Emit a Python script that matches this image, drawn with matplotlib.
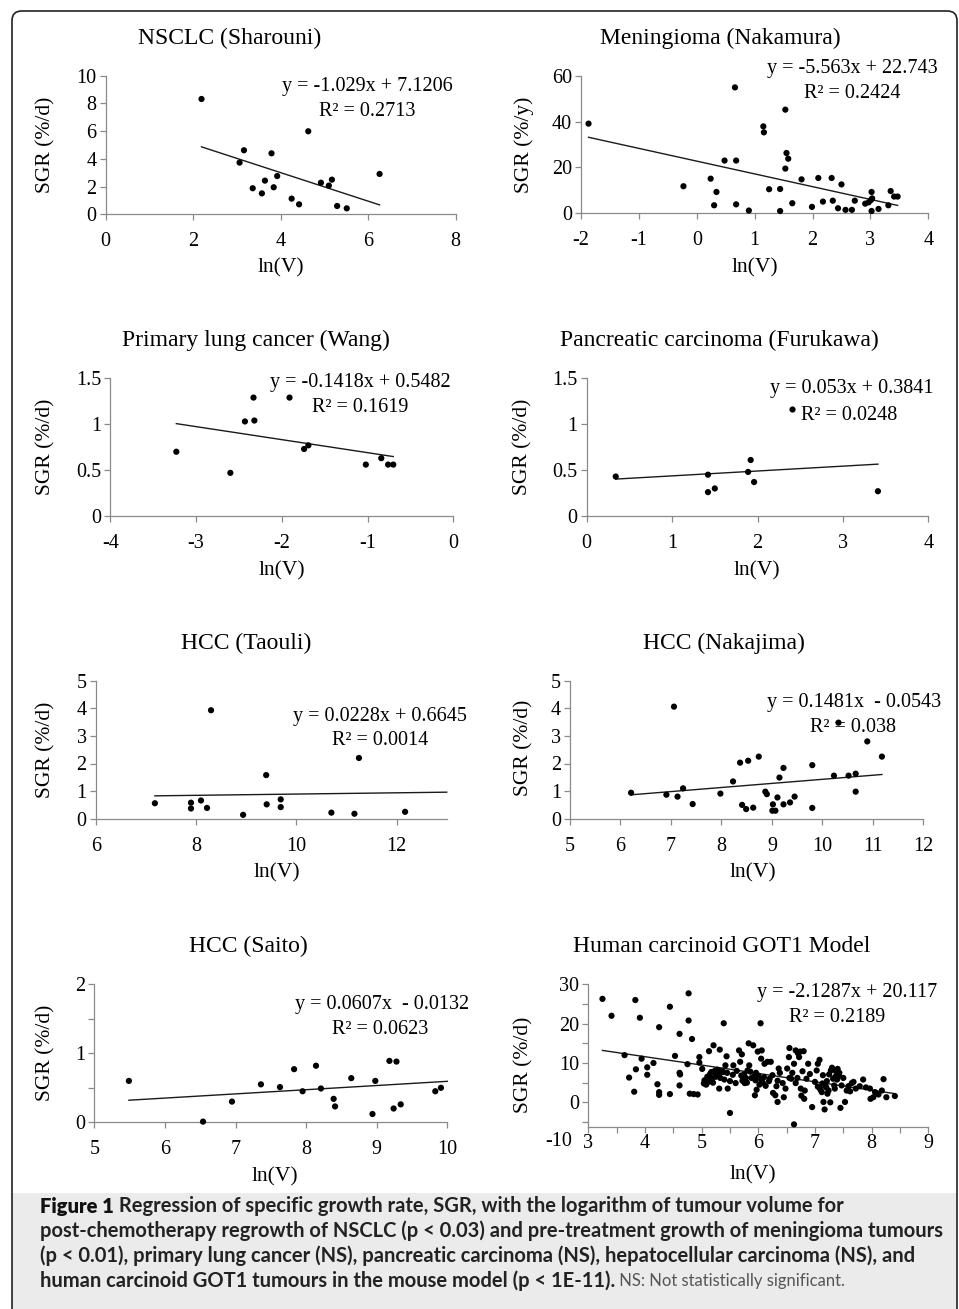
import matplotlib
matplotlib.use("Agg")
import matplotlib.pyplot as plt
from matplotlib.ticker import FixedLocator, FuncFormatter, MultipleLocator
from matplotlib.patches import FancyBboxPatch, Rectangle

# ---------------- data ----------------
nsclc_x = [2.19, 3.06, 3.16, 3.36, 3.57, 3.64, 3.79, 3.84, 3.92, 4.25, 4.42, 4.63, 4.92, 5.10, 5.17, 5.29, 5.51, 6.26]
nsclc_y = [8.32, 3.73, 4.62, 1.88, 1.51, 2.43, 4.40, 1.95, 2.76, 1.13, 0.72, 5.99, 2.28, 2.07, 2.50, 0.60, 0.43, 2.91]

men_x = [-1.87, -0.23, 0.24, 0.30, 0.34, 0.48, 0.66, 0.68, 0.68, 0.90, 1.15, 1.16, 1.25, 1.44, 1.44, 1.53, 1.53,
         1.55, 1.58, 1.65, 1.81, 1.99, 2.10, 2.18, 2.33, 2.35, 2.44, 2.50, 2.57, 2.68, 2.73, 2.91, 2.97, 3.02,
         3.01, 3.03, 3.02, 3.14, 3.31, 3.35, 3.41, 3.47]
men_y = [39.1, 11.8, 15.1, 3.5, 9.3, 23.0, 54.9, 23.0, 3.9, 1.2, 37.9, 35.3, 10.5, 10.6, 1.0, 45.2, 19.5,
         26.3, 23.8, 4.4, 14.8, 2.8, 15.4, 5.1, 15.4, 5.5, 2.2, 12.6, 1.5, 1.5, 5.5, 4.2, 4.8, 9.3,
         5.8, 6.5, 1.0, 1.9, 3.5, 9.7, 7.3, 7.3]

lung_x = [-3.23, -2.60, -2.43, -2.33, -2.32, -1.91, -1.74, -1.69, -1.02, -0.84, -0.76, -0.70]
lung_y = [0.70, 0.47, 1.03, 1.29, 1.04, 1.29, 0.73, 0.77, 0.56, 0.63, 0.56, 0.56]

panc_x = [0.34, 1.42, 1.42, 1.50, 1.89, 1.92, 1.96, 2.41, 3.41]
panc_y = [0.43, 0.45, 0.26, 0.30, 0.48, 0.61, 0.37, 1.16, 0.27]

taouli_x = [7.18, 7.90, 7.90, 8.10, 8.22, 8.30, 8.94, 9.40, 9.41, 9.69, 9.69, 10.70, 11.16, 11.25, 12.17]
taouli_y = [0.56, 0.58, 0.37, 0.66, 0.39, 3.93, 0.14, 1.58, 0.52, 0.70, 0.42, 0.22, 0.18, 2.20, 0.25]

naka_x = [6.21, 6.91, 7.06, 7.13, 7.24, 7.43, 7.98, 8.23, 8.37, 8.41, 8.49, 8.53, 8.63, 8.74, 8.87, 8.90, 9.01,
          9.02, 9.07, 9.11, 9.15, 9.23, 9.23, 9.36, 9.45, 9.80, 9.80, 10.23, 10.32, 10.52, 10.66, 10.66, 10.89, 11.18]
naka_y = [0.94, 0.87, 4.06, 0.80, 1.10, 0.53, 0.91, 1.35, 2.03, 0.50, 0.35, 2.10, 0.40, 2.25, 0.98, 0.89, 0.29,
          0.52, 0.29, 0.77, 1.49, 1.84, 0.52, 0.59, 0.80, 1.94, 0.39, 1.56, 3.48, 1.56, 1.63, 0.98, 2.80, 2.25]

saito_x = [5.49, 6.54, 6.95, 7.36, 7.63, 7.83, 7.95, 8.14, 8.21, 8.39, 8.41, 8.64, 8.94, 8.98, 9.18, 9.24, 9.28, 9.34, 9.83, 9.91]
saito_y = [0.60, 0.01, 0.30, 0.55, 0.51, 0.77, 0.45, 0.82, 0.49, 0.34, 0.23, 0.64, 0.12, 0.60, 0.89, 0.20, 0.88, 0.26, 0.45, 0.50]

got1_x = [3.25, 3.41, 3.64, 3.72, 3.81, 3.83, 3.84, 3.91, 3.94, 4.04, 4.04, 4.15, 4.25, 4.22, 4.25, 4.25, 4.44, 4.44,
          4.53, 4.61, 4.61, 4.62, 4.61, 4.77, 4.77, 4.75, 4.83, 4.79, 4.86, 4.93, 4.96, 4.96,
          5.01, 5.04, 5.05, 5.08, 5.10, 5.12, 5.13, 5.15, 5.17, 5.18, 5.20, 5.21, 5.22, 5.24, 5.25, 5.26, 5.28,
          5.30, 5.31, 5.32, 5.33, 5.36, 5.38, 5.39, 5.40, 5.42, 5.44, 5.45, 5.46, 5.50, 5.50, 5.55, 5.56, 5.60,
          5.62, 5.66, 5.68, 5.70, 5.71, 5.72, 5.75, 5.76, 5.78, 5.80, 5.81, 5.83, 5.84, 5.86, 5.88, 5.91, 5.92,
          5.94, 5.95, 5.96, 5.97, 5.99, 6.00, 6.02, 6.04, 6.05, 6.05, 6.06, 6.08, 6.10, 6.11, 6.13, 6.16, 6.19,
          6.20, 6.22, 6.25, 6.26, 6.30, 6.32, 6.34, 6.34, 6.36, 6.38, 6.43, 6.45, 6.48, 6.51, 6.54, 6.55, 6.55,
          6.58, 6.60, 6.63, 6.63, 6.66, 6.66, 6.69, 6.70, 6.72, 6.74, 6.75, 6.76, 6.78, 6.80, 6.81, 6.82, 6.85,
          6.88, 6.91, 6.95, 7.00, 7.03, 7.05, 7.05, 7.08, 7.09, 7.10, 7.12, 7.13, 7.14, 7.15, 7.17, 7.18, 7.20,
          7.21, 7.22, 7.24, 7.25, 7.27, 7.28, 7.30, 7.32, 7.34, 7.35, 7.36, 7.37, 7.39, 7.40, 7.42, 7.43, 7.45,
          7.47, 7.50, 7.53, 7.56, 7.59, 7.62, 7.65, 7.68, 7.72, 7.79, 7.85, 7.90, 7.97, 7.98, 8.03, 8.06, 8.12,
          8.18, 8.21, 8.26, 8.41]
got1_y = [26.3, 22.0, 12.0, 6.3, 2.7, 26.0, 8.4, 21.5, 11.1, 8.9, 7.0, 10.0, 19.1, 4.6, 2.6, 1.9, 2.1, 24.3,
          11.8, 17.4, 7.5, 7.1, 4.3, 27.7, 20.8, 9.7, 16.1, 2.2, 2.1, 2.0, 11.5, 10.1,
          8.5, 4.8, 5.6, 4.5, 6.5, 5.2, 13.0, 7.2, 7.7, 6.0, 5.0, 14.5, 7.8, 8.1, 6.5, 7.1, 8.3,
          7.0, 3.5, 13.4, 6.2, 8.0, 7.7, 20.1, 5.8, 9.4, 11.7, 7.5, 3.5, -2.7, 5.4, 7.0, 9.4, 4.9,
          8.0, 13.2, 10.3, 6.8, 12.2, 5.5, 7.1, 4.9, 6.2, 5.0, 8.1, 15.0, 9.4, 7.8, 6.2, 14.5, 6.5,
          1.8, 5.6, 7.5, 3.2, 12.9, 6.8, 4.5, 20.1, 11.1, 5.8, 13.2, 5.0, 6.4, 9.8, 4.2, 10.3, 5.4,
          6.0, 10.3, 6.9, 2.4, 1.8, 4.1, 0.1, 5.5, 8.6, 7.5, 4.9, 1.3, 3.5, 8.6, 11.5, 13.8, 6.2,
          6.0, 7.5, 9.8, -5.6, 13.2, 4.9, 6.2, 12.5, 11.5, 12.9, 3.5, 1.7, 7.9, 13.0, 0.9, 3.0, 6.0,
          9.8, 7.2, -1.2, 5.2, 8.1, 9.8, 4.0, 10.8, 3.5, 3.2, 2.6, 4.8, 6.9, 0.1, -1.8, 4.3, 3.8,
          5.4, 2.2, 3.0, 7.1, 0.0, 8.1, 8.8, 6.0, 4.3, 3.5, 6.5, 7.9, 5.8, 8.5, 6.8, 7.5, -1.4,
          4.3, 6.2, 0.1, 3.0, 4.1, 2.8, 4.9, 5.2, 3.5, 4.1, 5.8, 3.8, 3.5, 0.9, 1.3, 2.6, 2.0,
          3.0, 5.9, 1.3, 1.6]

titles = ["NSCLC (Sharouni)", "Meningioma (Nakamura)", "Primary lung cancer (Wang)",
          "Pancreatic carcinoma (Furukawa)", "HCC (Taouli)", "HCC (Nakajima)", "HCC (Saito)",
          "Human carcinoid GOT1 Model"]
ylabels = ["SGR (%/d)", "SGR (%/y)", "SGR (%/d)", "SGR (%/d)", "SGR (%/d)", "SGR (%/d)", "SGR (%/d)", "SGR (%/d)"]
slopes = [-1.029, -5.563, -0.1418, 0.053, 0.0228, 0.1481, 0.0607, -2.1287]
intercepts = [7.1206, 22.743, 0.5482, 0.3841, 0.6645, -0.0543, -0.0132, 20.117]
eq_texts = ["y = -1.029x + 7.1206", "y = -5.563x + 22.743", "y = -0.1418x + 0.5482", "y = 0.053x + 0.3841",
            "y = 0.0228x + 0.6645", "y = 0.1481x  - 0.0543", "y = 0.0607x  - 0.0132", "y = -2.1287x + 20.117"]
r2_texts = ["R² = 0.2713", "R² = 0.2424", "R² = 0.1619", "R² = 0.0248",
            "R² = 0.0014", "R² = 0.038", "R² = 0.0623", "R² = 0.2189"]
xlims = [(0, 8), (-2, 4), (-4, 0), (0, 4), (6, 13), (5, 12), (5, 10), (3, 9)]
ylims = [(0, 10), (0, 60), (0, 1.5), (0, 1.5), (0, 5), (0, 5), (0, 2), (-10, 30)]
xticks = [[0, 2, 4, 6, 8], [-2, -1, 0, 1, 2, 3, 4], [-4, -3, -2, -1, 0], [0, 1, 2, 3, 4],
          [6, 8, 10, 12], [5, 6, 7, 8, 9, 10, 11, 12], [5, 6, 7, 8, 9, 10], [3, 4, 5, 6, 7, 8, 9]]
yticks = [[0, 2, 4, 6, 8, 10], [0, 20, 40, 60], [0, 0.5, 1, 1.5], [0, 0.5, 1, 1.5],
          [0, 1, 2, 3, 4, 5], [0, 1, 2, 3, 4, 5], [0, 1, 2], [0, 10, 20, 30]]
xs = [nsclc_x, men_x, lung_x, panc_x, taouli_x, naka_x, saito_x, got1_x]
ys = [nsclc_y, men_y, lung_y, panc_y, taouli_y, naka_y, saito_y, got1_y]
trend_to_axis_end = [False, False, False, False, True, False, True, False]

caption_l1_bold = "Figure 1"
caption_lines = [" Regression of specific growth rate, SGR, with the logarithm of tumour volume for",
                 "post-chemotherapy regrowth of NSCLC (p < 0.03) and pre-treatment growth of meningioma tumours",
                 "(p < 0.01), primary lung cancer (NS), pancreatic carcinoma (NS), hepatocellular carcinoma (NS), and",
                 "human carcinoid GOT1 tumours in the mouse model (p < 1E-11)."]
caption_note = " NS: Not statistically significant."

# ---------------- layout (pixels) ----------------
serif = ["Liberation Serif", "DejaVu Serif"]
plt.rcParams["font.family"] = serif

W, H = 959, 1309
fig = plt.figure(figsize=(W / 100, H / 100), dpi=100)
fig.patch.set_facecolor("white")

# frame and caption background
fig.patches.append(Rectangle((12 / W, 0), 945 / W, 1 - 1193 / H, transform=fig.transFigure,
                             facecolor="#ebebeb", edgecolor="none", zorder=0))
fig.patches.append(FancyBboxPatch((12 / W, -0.02), 945 / W, 1 - 11 / H + 0.02,
                                  boxstyle="round,pad=0,rounding_size=0.01", transform=fig.transFigure,
                                  facecolor="none", edgecolor="#222222", linewidth=1.2, zorder=1,
                                  mutation_aspect=W / H))

axes_px = [(105.7, 455.7, 75.7, 214.3), (581, 928.3, 75.7, 213.3),
           (110.3, 453.3, 378.3, 516), (586.7, 928.3, 378.3, 516),
           (95.7, 446.7, 680.7, 818.7), (570, 923.3, 680.7, 818.7),
           (94.3, 447.3, 984.3, 1122.3), (588.3, 928.3, 984.3, 1141.7)]
title_pos = [(230, 38), (720, 38), (256, 340), (719, 340), (246, 643), (724, 643), (248, 946), (722, 946)]
ylabel_pos = [(46, 145), (524, 145), (46, 447), (523, 447), (46, 750), (524, 748), (46, 1053), (524, 1065)]
xlabel_pos = [(281, 268), (755, 268), (282, 571), (757, 571), (277, 873), (753, 873), (275, 1177), (753, 1175)]
eq_pos = [(367, 87), (852, 68), (360, 382), (852, 388), (380, 717), (854, 702), (382, 1005), (847, 992)]
r2_pos = [(367, 112), (852, 93), (360, 407), (849, 415), (380, 741), (853, 727), (380, 1030), (837, 1017)]

spine_col = "#8a8a8a"
TICK_FS = 14.5
LAB_FS = 15.5
TITLE_FS = 17
EQ_FS = 14.5


def fmt(v, pos=None):
    return "%g" % v


for i in range(8):
    x0, x1, yt, yb = axes_px[i]
    ax = fig.add_axes([x0 / W, 1 - yb / H, (x1 - x0) / W, (yb - yt) / H])
    ax.set_facecolor("none")
    ax.set_xlim(*xlims[i])
    ax.set_ylim(*ylims[i])
    for s in ("top", "right"):
        ax.spines[s].set_visible(False)
    for s in ("left", "bottom"):
        ax.spines[s].set_color(spine_col)
        ax.spines[s].set_linewidth(0.9)
    ax.xaxis.set_major_locator(FixedLocator(xticks[i]))
    ax.yaxis.set_major_locator(FixedLocator(yticks[i]))
    ax.xaxis.set_major_formatter(FuncFormatter(fmt))
    ax.yaxis.set_major_formatter(FuncFormatter(fmt))
    xpad = 9
    if i == 6:
        ax.yaxis.set_minor_locator(MultipleLocator(0.5))
    if i == 7:
        ax.yaxis.set_minor_locator(FixedLocator([-5, 5, 15, 25]))
        ax.xaxis.set_minor_locator(MultipleLocator(0.5))
        ax.spines["bottom"].set_position(("data", -6.2))
        ax.spines["left"].set_bounds(-6.2, 30)
        xpad = 1
    ax.tick_params(axis="both", which="both", direction="out", length=4, width=0.9,
                   color=spine_col, labelsize=TICK_FS, labelcolor="black")
    ax.tick_params(axis="x", which="both", pad=xpad)
    ax.tick_params(axis="y", which="both", pad=2.5)

    if i == 7:
        ax.annotate("-10", xy=(0, -10), xycoords=("axes fraction", "data"),
                    xytext=(-12, 0), textcoords="offset points", ha="right", va="center",
                    fontsize=TICK_FS, annotation_clip=False)

    # data points
    ax.scatter(xs[i], ys[i], s=20, color="black", edgecolors="none", zorder=3, clip_on=False)
    # regression line
    xa = min(xs[i])
    xb = xlims[i][1] if trend_to_axis_end[i] else max(xs[i])
    ax.plot([xa, xb], [slopes[i] * xa + intercepts[i], slopes[i] * xb + intercepts[i]],
            color="#1a1a1a", lw=1.0, zorder=2, clip_on=False)

    # texts
    tx, ty = title_pos[i]
    fig.text(tx / W, 1 - ty / H, titles[i], ha="center", va="center", fontsize=TITLE_FS)
    lx, ly = ylabel_pos[i]
    fig.text(lx / W, 1 - ly / H, ylabels[i], ha="center", va="center", rotation=90, fontsize=LAB_FS)
    bx, by = xlabel_pos[i]
    fig.text(bx / W, 1 - by / H, "ln(V)", ha="center", va="center", fontsize=LAB_FS)
    ex, ey = eq_pos[i]
    fig.text(ex / W, 1 - ey / H, eq_texts[i], ha="center", va="center", fontsize=EQ_FS)
    rx, ry = r2_pos[i]
    fig.text(rx / W, 1 - ry / H, r2_texts[i], ha="center", va="center", fontsize=EQ_FS)

# ---------------- caption ----------------
sans = ["Lato", "DejaVu Sans"]
CAP_FS = 14.5
NOTE_FS = 12
cap_y = [1206, 1231, 1256, 1281]
renderer = fig.canvas.get_renderer()
t0 = fig.text(40 / W, 1 - cap_y[0] / H, caption_l1_bold, ha="left", va="center", fontsize=CAP_FS,
              family=sans, weight="heavy", color="#111111")
bb = t0.get_window_extent(renderer)
fig.text(bb.x1 / W, 1 - cap_y[0] / H, caption_lines[0], ha="left", va="center", fontsize=CAP_FS,
         family=sans, weight="bold", color="#222222")
for k in (1, 2):
    fig.text(40 / W, 1 - cap_y[k] / H, caption_lines[k], ha="left", va="center", fontsize=CAP_FS,
             family=sans, weight="bold", color="#222222")
t3 = fig.text(40 / W, 1 - cap_y[3] / H, caption_lines[3], ha="left", va="center", fontsize=CAP_FS,
              family=sans, weight="bold", color="#222222")
bb3 = t3.get_window_extent(renderer)
fig.text(bb3.x1 / W, 1 - cap_y[3] / H, caption_note, ha="left", va="center", fontsize=NOTE_FS,
         family=sans, weight="normal", color="#555555")

fig.savefig("out.png", dpi=100, facecolor="white")
